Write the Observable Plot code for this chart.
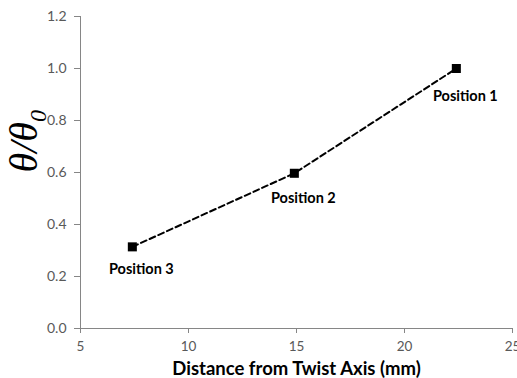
<!DOCTYPE html>
<html>
<head>
<meta charset="utf-8">
<script src="https://cdn.jsdelivr.net/npm/d3@7"></script>
<script src="https://cdn.jsdelivr.net/npm/@observablehq/plot@0.6"></script>
<style>
  html, body { margin: 0; padding: 0; background: #fff; }
  #chart svg { display: block; }
</style>
</head>
<body>
<div id="chart"></div>
<script>
const positions = ["Position 1", "Position 2", "Position 3"];
const distance = [22.4, 14.9, 7.4];
const ratio = [1.0, 0.597, 0.314];
const xTicks = [5, 10, 15, 20, 25];
const yTicks = [0, 0.2, 0.4, 0.6, 0.8, 1.0, 1.2];
const labelDy = [28, 25, 22];

const data = positions.map((p, i) => ({name: p, x: distance[i], y: ratio[i], dy: labelDy[i]}));
const lineData = [...data].sort((a, b) => a.x - b.x);

const font = "Lato, 'Open Sans', sans-serif";
const axisColor = "#868686";

const plot = Plot.plot({
  width: 517,
  height: 378,
  marginLeft: 80,
  marginRight: 5,
  marginTop: 16,
  marginBottom: 50,
  style: {fontFamily: font, background: "#fff", overflow: "visible"},
  x: {domain: [5, 25], label: null},
  y: {domain: [0, 1.2], label: null},
  marks: [
    Plot.axisX({ticks: xTicks, tickSize: 5, tickPadding: 8, fontSize: 13.5, stroke: axisColor, color: "#595959", strokeWidth: 1, strokeOpacity: 1}),
    Plot.axisY({ticks: yTicks, tickFormat: d3.format(".1f"), tickSize: 6, tickPadding: 8, fontSize: 14, stroke: axisColor, color: "#595959", strokeWidth: 1, strokeOpacity: 1}),
    Plot.ruleX([5], {stroke: axisColor, strokeWidth: 1}),
    Plot.ruleY([0], {stroke: axisColor, strokeWidth: 1}),
    Plot.line(lineData, {x: "x", y: "y", stroke: "#000", strokeWidth: 2, strokeDasharray: "6,3.5"}),
    Plot.dot(data, {x: "x", y: "y", symbol: "square", r: 5.1, fill: "#000", stroke: "none"}),
    ...data.map(d => Plot.text([d], {x: "x", y: "y", text: "name", dx: 9, dy: d.dy, fontSize: 14.5, fontWeight: "bold", fill: "#000"})),
    Plot.text(["Distance from Twist Axis (mm)"], {frameAnchor: "bottom", lineAnchor: "bottom", dy: 46, fontSize: 18.5, fontWeight: "bold", fill: "#000"}),
    Plot.text(["θ/θ"], {frameAnchor: "left", dx: -56, rotate: -90, fontSize: 40, fontStyle: "italic", fontFamily: "'Liberation Serif', 'DejaVu Serif', serif", fill: "#000", className: "ytitle"})
  ]
});
document.getElementById("chart").appendChild(plot);

// add subscript 0 to the y title
d3.select(plot).selectAll("g.ytitle text").each(function() {
  const t = d3.select(this);
  t.append("tspan").attr("font-size", 24).attr("dy", "0.35em").attr("font-style", "italic").text("0");
});
</script>
</body>
</html>
